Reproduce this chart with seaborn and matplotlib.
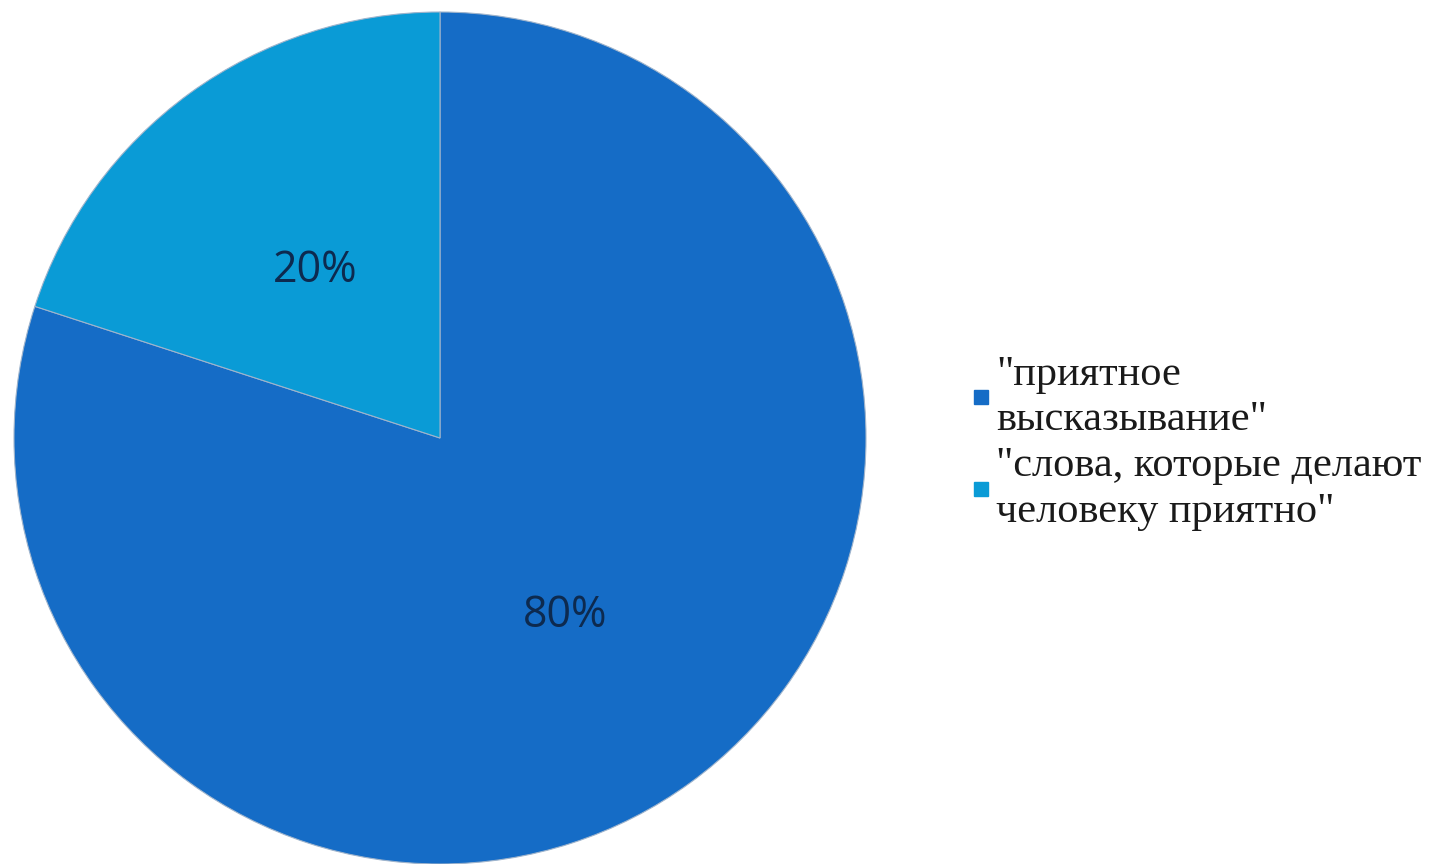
import matplotlib
matplotlib.use("Agg")
import matplotlib.pyplot as plt
import seaborn as sns
from matplotlib.lines import Line2D

sns.set_theme(style="white")

labels = ['"приятное\nвысказывание"', '"слова, которые делают\nчеловеку приятно"']
shares = [80, 20]
colors = ["#156CC6", "#0A9BD6"]

fig = plt.figure(figsize=(14.34, 8.64), dpi=100)
fig.patch.set_facecolor("white")

# pie box: centre about (440, 438) px, radius about 426 px
cx, cy, r = 440, 438, 426
ax = fig.add_axes([(cx - r) / 1434, (864 - cy - r) / 864, 2 * r / 1434, 2 * r / 864])

wedges, _, autotexts = ax.pie(
    shares, colors=colors, startangle=90, counterclock=False,
    autopct="%d%%", pctdistance=0.5, radius=1,
    wedgeprops=dict(edgecolor="#9fb4cc", linewidth=0.8),
    textprops=dict(color="#0D2A4F", fontsize=31, family="Open Sans"),
)
for t in autotexts:
    x, y = t.get_position()
    t.set_position((x, y - 0.012))
ax.set_xlim(-1, 1)
ax.set_ylim(-1, 1)
ax.axis("off")

handles = [Line2D([], [], marker="s", linestyle="none", markersize=10,
                  markerfacecolor=c, markeredgecolor=c) for c in colors]
leg = fig.legend(handles, labels, loc="center left",
                 bbox_to_anchor=(970 / 1434, 1 - 443 / 864),
                 frameon=False, handlelength=0.5, handletextpad=0.12,
                 labelspacing=0.18, borderaxespad=0, borderpad=0,
                 prop=dict(family="Liberation Serif", size=30.5),
                 labelcolor="#1a1a1a")
for t in leg.get_texts():
    t.set_linespacing(1.24)

fig.savefig("out.png", dpi=100, facecolor="white")
